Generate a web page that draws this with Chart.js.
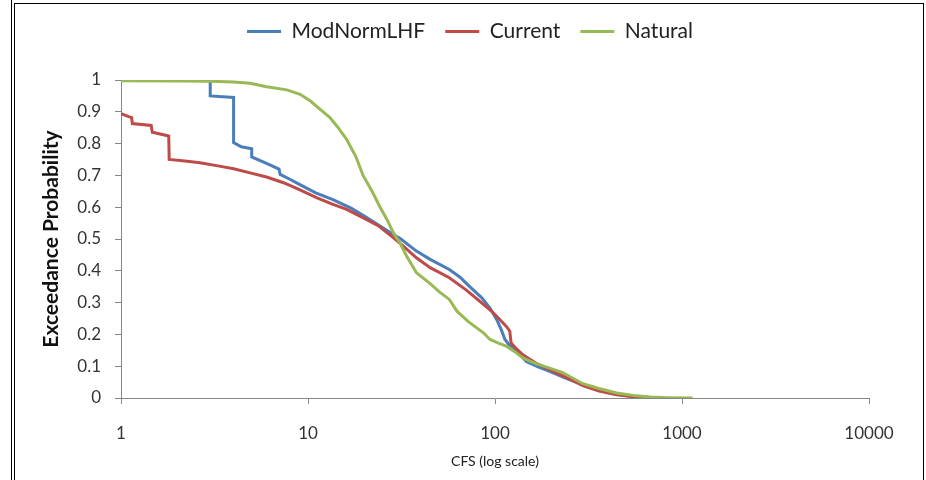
<!DOCTYPE html>
<html>
<head>
<meta charset="utf-8">
<script src="https://cdn.jsdelivr.net/npm/chart.js@4/dist/chart.umd.min.js"></script>
<style>
    body { margin: 0; background: #fff; }
    #wrap { position: relative; width: 926px; height: 480px; overflow: hidden; }
    #my_chart { position: absolute; left: 0; top: 0; }
    .frame_outer { position: absolute; left: 11px; top: 0; width: 1px; height: 480px; background: #000; }
    .frame_inner { position: absolute; left: 14px; top: 3px; width: 908px; height: 490px;
                   border-left: 1px solid #000; border-top: 1px solid #000; border-right: 1px solid #000; }
</style>
</head>
<body>
<div id="wrap">
    <canvas id="my_chart" width="926" height="480"></canvas>
    <div class="frame_outer"></div>
    <div class="frame_inner"></div>
</div>
<script>
// series names and colours
const seriesNames = ['ModNormLHF', 'Current', 'Natural'];
const seriesColors = ['#4a7ebb', '#be4b48', '#98b954'];

// x tick values (log axis)
const flowTicks = [1, 10, 100, 1000, 10000];

// ModNormLHF: flow (cfs) and exceedance probability
const modFlow = [3.0, 3.0, 4.0, 4.0, 4.4, 5.0, 5.0, 6.0, 7.0, 7.1, 8.0, 9.0, 11.0, 13.6, 17.0, 20.0, 25.0, 28.6, 31.0, 38.0,
    45, 57, 65, 73, 85, 94, 102, 108, 113, 120, 126, 147, 170, 196, 240, 295, 360, 447, 520, 600, 700, 780];
const modProb = [1.0, 0.95, 0.945, 0.803, 0.79, 0.784, 0.758, 0.738, 0.72, 0.703, 0.688, 0.672, 0.645, 0.624, 0.597, 0.572, 0.536, 0.514, 0.502, 0.462,
    0.436, 0.404, 0.38, 0.351, 0.315, 0.283, 0.247, 0.215, 0.184, 0.165, 0.157, 0.115, 0.098, 0.084, 0.062, 0.042, 0.025, 0.013, 0.006, 0.003, 0.001, 0];

// Current
const curFlow = [1.0, 1.1, 1.14, 1.15, 1.45, 1.47, 1.8, 1.81, 2.2, 2.64, 3.3, 4.0, 4.9, 6.0, 7.4, 9.0, 11.1, 13.5, 16.1, 20.6,
    24, 27.5, 32, 38, 45, 57, 70, 87, 97, 106, 115, 120, 121, 122, 130, 141, 165, 196, 240, 295, 360, 447, 550, 680];
const curProb = [0.894, 0.885, 0.882, 0.863, 0.857, 0.836, 0.824, 0.75, 0.745, 0.74, 0.73, 0.721, 0.708, 0.695, 0.677, 0.655, 0.63, 0.61, 0.593, 0.561,
    0.54, 0.512, 0.48, 0.441, 0.41, 0.378, 0.34, 0.294, 0.27, 0.247, 0.225, 0.21, 0.19, 0.173, 0.155, 0.136, 0.11, 0.089, 0.065, 0.039, 0.022, 0.01, 0.004, 0];

// Natural
const natFlow = [1.0, 2.0, 3.0, 4.0, 4.9, 6.0, 7.7, 9.07, 10.3, 11.5, 13.1, 14.5, 16.1, 18.0, 19.7, 22.0, 24.3, 26.5, 28.6, 31.0,
    33.7, 38, 45, 50, 57, 62.6, 72, 86.7, 94, 105, 115, 128, 141, 165, 196, 230, 295, 360, 447, 550, 677, 850, 1140];
const natProb = [0.998, 0.997, 0.996, 0.994, 0.99, 0.979, 0.969, 0.955, 0.934, 0.91, 0.882, 0.85, 0.813, 0.76, 0.70, 0.65, 0.60, 0.56, 0.52, 0.488,
    0.446, 0.394, 0.36, 0.335, 0.31, 0.273, 0.24, 0.205, 0.184, 0.172, 0.163, 0.145, 0.126, 0.108, 0.094, 0.08, 0.045, 0.03, 0.016, 0.008, 0.003, 0.001, 0];

function to_points(xs, ys) {
    return xs.map((x, i) => ({ x: x, y: ys[i] }));
}

// push the plot area down below the legend
const legendGap = {
    id: 'legendGap',
    beforeInit(chart) {
        const fitValue = chart.legend.fit;
        chart.legend.fit = function fit() {
            fitValue.bind(chart.legend)();
            this.height += 28;
        };
    }
};

Chart.defaults.font.family = 'Lato, "Open Sans", sans-serif';
Chart.defaults.color = '#333';

const axisGray = '#868686';
const allFlows = [modFlow, curFlow, natFlow];
const allProbs = [modProb, curProb, natProb];

const ctx = document.getElementById('my_chart').getContext('2d');
window.my_chart = new Chart(ctx, {
    type: 'line',
    data: {
        datasets: seriesNames.map((name, i) => ({
            label: name,
            data: to_points(allFlows[i], allProbs[i]),
            borderColor: seriesColors[i],
            backgroundColor: seriesColors[i],
            borderWidth: 3,
            pointRadius: 0,
            tension: 0,
            order: seriesNames.length - i
        }))
    },
    options: {
        responsive: false,
        animation: false,
        devicePixelRatio: 1,
        layout: { padding: { left: 14, top: 1, right: 0, bottom: 0 } },
        plugins: {
            tooltip: { enabled: false },
            legend: {
                position: 'top',
                labels: {
                    usePointStyle: true,
                    pointStyle: 'line',
                    pointStyleWidth: 34,
                    padding: 20,
                    color: '#222',
                    font: { size: 21 },
                    sort: (a, b) => a.datasetIndex - b.datasetIndex
                }
            }
        },
        scales: {
            x: {
                type: 'logarithmic',
                min: 1,
                max: 10000,
                afterBuildTicks: scale => {
                    scale.ticks = flowTicks.map(v => ({ value: v }));
                },
                afterFit: scale => { scale.height = 82; },
                ticks: {
                    autoSkip: false,
                    maxRotation: 0,
                    padding: 19,
                    font: { size: 17 },
                    callback: v => String(v)
                },
                grid: { drawOnChartArea: false, tickLength: 6, color: axisGray },
                border: { color: axisGray },
                title: {
                    display: true,
                    text: 'CFS (log scale)',
                    font: { size: 14 },
                    color: '#222',
                    padding: { top: 0, bottom: 10 }
                }
            },
            y: {
                min: 0,
                max: 1,
                afterFit: scale => { scale.width = 107; },
                ticks: {
                    stepSize: 0.1,
                    padding: 14,
                    font: { size: 17 },
                    callback: v => String(Math.round(v * 10) / 10)
                },
                grid: { drawOnChartArea: false, tickLength: 6, color: axisGray },
                border: { color: axisGray },
                title: {
                    display: true,
                    text: 'Exceedance Probability',
                    font: { size: 21, weight: 'bold' },
                    color: '#111',
                    padding: { top: 25, bottom: 0 }
                }
            },
            // empty box on the right so the legend centres like the original
            y2: {
                position: 'right',
                afterFit: scale => { scale.width = 57; },
                ticks: { display: false },
                grid: { display: false },
                border: { display: false }
            }
        }
    },
    plugins: [legendGap]
});
</script>
</body>
</html>
